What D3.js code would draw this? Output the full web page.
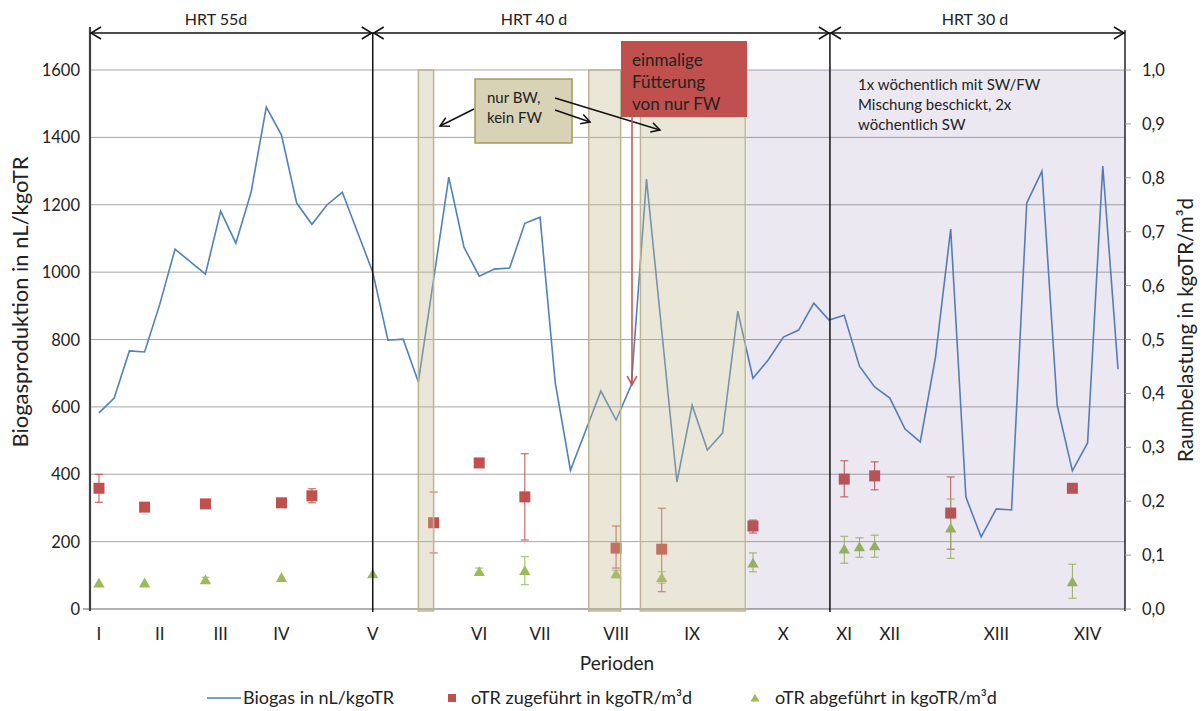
<!DOCTYPE html>
<html>
<head>
<meta charset="utf-8">
<script src="https://cdn.jsdelivr.net/npm/d3@7"></script>
<style>
  body { margin: 0; background: #fff; }
  svg text { font-family: Lato, "Open Sans", sans-serif; fill: #222; }
</style>
</head>
<body>
<svg class="chart" width="1203" height="711"></svg>
<script>
// week index of each sample
const biogasWeek = [0,1,2,3,4,5,7,8,9,10,11,12,13,14,15,16,18,19,20,21,23,24,25,26,27,28,29,30,31,33,34,35,36,38,39,40,41,42,43,44,45,46,47,48,49,50,51,52,53,54,55,56,57,58,59,60,61,62,63,64,65,66,67]
const biogasValue = [582,626,766,763,905,1068,994,1181,1086,1237,1490,1407,1205,1142,1200,1237,1000,798,801,674,1282,1074,988,1009,1012,1145,1163,671,412,647,561,665,1276,377,605,472,522,884,685,739,807,828,908,858,872,721,659,626,534,496,748,1128,332,214,297,294,1205,1300,605,410,493,1315,712]

const feedWeek = [0,3,7,12,14,22,25,28,34,37,43,49,51,56,64]
const feedValue = [0.224,0.189,0.195,0.197,0.210,0.160,0.271,0.208,0.113,0.111,0.154,0.241,0.247,0.178,0.224]
const feedLow = [0.198,0.189,0.195,0.197,0.197,0.104,0.271,0.128,0.076,0.032,0.141,0.208,0.221,0.111,0.224]
const feedHigh = [0.250,0.189,0.195,0.197,0.223,0.217,0.271,0.288,0.154,0.187,0.165,0.275,0.273,0.245,0.224]

const outWeek = [0,3,7,12,18,25,28,34,37,43,49,50,51,56,64]
const outValue = [0.048,0.048,0.054,0.058,0.065,0.069,0.071,0.065,0.058,0.085,0.111,0.115,0.117,0.150,0.050]
const outLow = [0.048,0.048,0.050,0.058,0.065,0.065,0.045,0.058,0.048,0.069,0.085,0.096,0.096,0.094,0.020]
const outHigh = [0.048,0.048,0.059,0.058,0.065,0.076,0.097,0.072,0.069,0.104,0.135,0.132,0.137,0.204,0.083]

const periodLabels = ['I','II','III','IV','V','VI','VII','VIII','IX','X','XI','XII','XIII','XIV']
const periodWeek = [0,4,8,12,18,25,29,34,39,45,49,52,59,65]

const leftTicks = [0,200,400,600,800,1000,1200,1400,1600]
const rightTicks = [0,0.1,0.2,0.3,0.4,0.5,0.6,0.7,0.8,0.9,1.0]

const hrtLabels = ['HRT 55d','HRT 40 d','HRT 30 d']
const hrtBounds = [-0.59, 18, 48.06, 67.46]
const hrtLabelWeek = [7.7, 28.6, 57.6]

// BW only weeks (tan) and mixed-feeding phase (lavender)
const tanBands = [[21.0,22.0],[32.2,34.3],[35.6,42.5]]
const lavenderBand = [42.6,67.46]

let svg = d3.select("svg.chart")

let x = d3.scaleLinear().domain([-0.59, 67.46]).range([90, 1125])
let yL = d3.scaleLinear().domain([0, 1600]).range([609, 70])
let yR = d3.scaleLinear().domain([0, 1]).range([609, 70])

const blue = '#4f81bd', red = '#c0504d', green = '#9bbb59'

// gridlines
svg.append("g")
  .selectAll("line")
  .data(leftTicks)
  .enter().append("line")
    .attr("x1", 90).attr("x2", 1125)
    .attr("y1", d => yL(d)).attr("y2", d => yL(d))
    .attr("stroke", d => d === 0 ? '#b0b0b0' : '#a6a6a6')
    .attr("stroke-width", d => d === 0 ? 2 : 1)

// bottom axis baseline stub to the left
svg.append("line").attr("x1", 83).attr("x2", 90).attr("y1", 609).attr("y2", 609)
  .attr("stroke", '#b0b0b0').attr("stroke-width", 2)

// biogas line
let line = d3.line().x(d => x(d[0])).y(d => yL(d[1]))
svg.append("path")
  .datum(d3.zip(biogasWeek, biogasValue))
  .attr("d", line)
  .attr("fill", "none")
  .attr("stroke", blue)
  .attr("stroke-width", 1.6)

// error bars
function errorBars(week, lo, hi, color) {
  let g = svg.append("g").attr("stroke", color).attr("stroke-width", 1)
  week.forEach((w, i) => {
    if (hi[i] - lo[i] < 0.004) return
    let cx = x(w)
    g.append("line").attr("x1", cx).attr("x2", cx).attr("y1", yR(lo[i])).attr("y2", yR(hi[i]))
    g.append("line").attr("x1", cx - 4).attr("x2", cx + 4).attr("y1", yR(lo[i])).attr("y2", yR(lo[i]))
    g.append("line").attr("x1", cx - 4).attr("x2", cx + 4).attr("y1", yR(hi[i])).attr("y2", yR(hi[i]))
  })
}
errorBars(feedWeek, feedLow, feedHigh, red)
errorBars(outWeek, outLow, outHigh, green)

svg.append("g")
  .selectAll("rect")
  .data(d3.zip(feedWeek, feedValue))
  .enter().append("rect")
    .attr("x", d => x(d[0]) - 5.5)
    .attr("y", d => yR(d[1]) - 5.5)
    .attr("width", 11).attr("height", 11)
    .attr("fill", red)

let tri = d3.symbol().type(d3.symbolTriangle).size(55)
svg.append("g")
  .selectAll("path")
  .data(d3.zip(outWeek, outValue))
  .enter().append("path")
    .attr("d", tri)
    .attr("transform", d => `translate(${x(d[0])},${yR(d[1]) + 1})`)
    .attr("fill", green)

// shaded phases on top (semi transparent)
svg.append("rect")
  .attr("x", x(lavenderBand[0])).attr("y", 70)
  .attr("width", x(lavenderBand[1]) - x(lavenderBand[0])).attr("height", 539)
  .attr("fill", '#8064a2').attr("fill-opacity", 0.15)

svg.append("g")
  .selectAll("rect")
  .data(tanBands)
  .enter().append("rect")
    .attr("x", d => x(d[0])).attr("y", 70)
    .attr("width", d => x(d[1]) - x(d[0])).attr("height", 541)
    .attr("fill", '#c4b88e').attr("fill-opacity", 0.34)
    .attr("stroke", '#bdb592').attr("stroke-width", 1.5)

// vertical phase separators
svg.append("g")
  .selectAll("line")
  .data([hrtBounds[1], hrtBounds[2]])
  .enter().append("line")
    .attr("x1", d => x(d)).attr("x2", d => x(d))
    .attr("y1", 33).attr("y2", 612)
    .attr("stroke", '#111').attr("stroke-width", 1.5)

// axes lines
svg.append("line").attr("x1", 90).attr("x2", 90).attr("y1", 27).attr("y2", 611)
  .attr("stroke", '#404040').attr("stroke-width", 2.2)
svg.append("line").attr("x1", 1125).attr("x2", 1125).attr("y1", 30).attr("y2", 611)
  .attr("stroke", '#222').attr("stroke-width", 1.5)

// left tick labels
svg.append("g")
  .selectAll("text")
  .data(leftTicks)
  .enter().append("text")
    .attr("x", 80).attr("y", d => yL(d) + 6)
    .attr("text-anchor", "end")
    .style("font-size", "16.5px")
    .text(d => d)

// right axis ticks and labels
let fmt = d3.format(".1f")
let rt = svg.append("g")
rt.selectAll("line")
  .data(rightTicks)
  .enter().append("line")
    .attr("x1", 1125).attr("x2", 1131)
    .attr("y1", d => yR(d)).attr("y2", d => yR(d))
    .attr("stroke", '#999')
rt.selectAll("text")
  .data(rightTicks)
  .enter().append("text")
    .attr("x", 1142).attr("y", d => yR(d) + 6)
    .style("font-size", "16.5px")
    .text(d => fmt(d).replace('.', ','))

// period labels
svg.append("g")
  .selectAll("text")
  .data(d3.zip(periodWeek, periodLabels))
  .enter().append("text")
    .attr("x", d => x(d[0])).attr("y", 640)
    .attr("text-anchor", "middle")
    .style("font-size", "17px")
    .text(d => d[1])

// axis titles
svg.append("text")
  .attr("transform", "translate(28,302) rotate(-90)")
  .attr("text-anchor", "middle")
  .style("font-size", "22px")
  .text("Biogasproduktion in nL/kgoTR")
svg.append("text")
  .attr("transform", "translate(1193,330) rotate(-90)")
  .attr("text-anchor", "middle")
  .style("font-size", "20.5px")
  .text("Raumbelastung in kgoTR/m³d")
svg.append("text")
  .attr("x", 617).attr("y", 670)
  .attr("text-anchor", "middle")
  .style("font-size", "19px")
  .text("Perioden")

// HRT double arrows
function arrowHead(g, px, py, dir) {
  g.append("path")
    .attr("d", `M${px - dir * 10},${py - 6} L${px},${py} L${px - dir * 10},${py + 6}`)
    .attr("fill", "none").attr("stroke", '#111').attr("stroke-width", 1.5)
}
let hrt = svg.append("g")
hrtLabels.forEach((label, i) => {
  let a = x(hrtBounds[i]), b = x(hrtBounds[i + 1])
  hrt.append("line").attr("x1", a).attr("x2", b).attr("y1", 33).attr("y2", 33)
    .attr("stroke", '#111').attr("stroke-width", 1.5)
  arrowHead(hrt, a + 1, 33, -1)
  arrowHead(hrt, b - 1, 33, 1)
  hrt.append("text")
    .attr("x", x(hrtLabelWeek[i])).attr("y", 25)
    .attr("text-anchor", "middle")
    .style("font-size", "16px")
    .text(label)
})

// "nur BW" callout
let ann = svg.append("g")
ann.append("rect").attr("x", 475).attr("y", 79).attr("width", 97).attr("height", 64)
  .attr("fill", '#d8d2b6').attr("stroke", '#a59a58').attr("stroke-width", 1.5)
ann.append("text").attr("x", 487).attr("y", 103).style("font-size", "15px").text("nur BW,")
ann.append("text").attr("x", 487).attr("y", 123).style("font-size", "15px").text("kein FW")

function arrow(x1, y1, x2, y2, color) {
  ann.append("line").attr("x1", x1).attr("y1", y1).attr("x2", x2).attr("y2", y2)
    .attr("stroke", color).attr("stroke-width", 1.5)
  let ang = Math.atan2(y2 - y1, x2 - x1)
  let p1 = [x2 - 10 * Math.cos(ang - 0.5), y2 - 10 * Math.sin(ang - 0.5)]
  let p2 = [x2 - 10 * Math.cos(ang + 0.5), y2 - 10 * Math.sin(ang + 0.5)]
  ann.append("path").attr("d", `M${p1} L${x2},${y2} L${p2}`)
    .attr("fill", "none").attr("stroke", color).attr("stroke-width", 1.5)
}
arrow(474, 109, 440, 126, '#111')
arrow(555, 110, 590, 122, '#111')
arrow(555, 98, 660, 130, '#111')

// red callout
ann.append("rect").attr("x", 621).attr("y", 41).attr("width", 126).attr("height", 76)
  .attr("fill", red)
;["einmalige", "Fütterung", "von nur FW"].forEach((t, i) => {
  ann.append("text").attr("x", 632).attr("y", 66 + i * 22).style("font-size", "17px").text(t)
})
arrow(632, 117, 632, 385, red)

// mixed feeding note
;["1x wöchentlich mit SW/FW", "Mischung beschickt, 2x", "wöchentlich SW"].forEach((t, i) => {
  ann.append("text").attr("x", 858).attr("y", 90 + i * 20).style("font-size", "15px").text(t)
})

// legend
let lg = svg.append("g").style("font-size", "18px")
lg.append("line").attr("x1", 207).attr("x2", 241).attr("y1", 698).attr("y2", 698)
  .attr("stroke", blue).attr("stroke-width", 1.6)
lg.append("text").attr("x", 243).attr("y", 704).text("Biogas in nL/kgoTR")
lg.append("rect").attr("x", 448).attr("y", 694).attr("width", 8).attr("height", 8).attr("fill", red)
lg.append("text").attr("x", 471).attr("y", 704).text("oTR zugeführt in kgoTR/m³d")
lg.append("path").attr("d", d3.symbol().type(d3.symbolTriangle).size(35))
  .attr("transform", "translate(755,699)").attr("fill", green)
lg.append("text").attr("x", 775).attr("y", 704).text("oTR abgeführt in kgoTR/m³d")
</script>
</body>
</html>
